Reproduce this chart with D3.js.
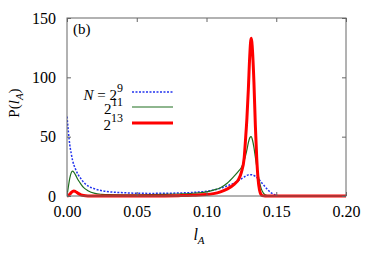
<!DOCTYPE html>
<html><head><meta charset="utf-8">
<script src="https://cdn.jsdelivr.net/npm/d3@7"></script>
<style>body{margin:0;background:#fff}svg{display:block}svg text{font-family:"Liberation Serif","Times New Roman","DejaVu Serif",serif !important}</style>
</head><body><svg id="c" width="374" height="262"></svg>
<script>
const xs = [0,0.001,0.002,0.003,0.004,0.005,0.006,0.008,0.010,0.012,0.015,0.02,0.025,0.03,0.04,0.05,0.06,0.07,0.08,0.09,0.10,0.105,0.11,0.115,0.12,0.123,0.125,0.127,0.128,0.129,0.130,0.131,0.132,0.133,0.134,0.135,0.136,0.137,0.138,0.139,0.140,0.142,0.144,0.146,0.148,0.150,0.152,0.155,0.16,0.18,0.20];
const n9  = [67,54,43,36,30,26,23,18,14.5,11.5,8.5,6,4.5,3.6,2.8,2.3,2.2,2.3,2.5,3,4,5,6.5,8.5,11,13,14.5,16,16.8,17.4,17.8,18,18,17.8,17.3,16.6,15.7,14.6,13.4,12,10.6,7.8,5.2,3,1.5,0.6,0.2,0,0,0,0];
const n11 = [0,8,15,19.5,21,20,18,13.5,10,7,4.5,2.2,1.4,1.1,1,1,1.1,1.3,1.7,2.3,3.5,5,7,11,17,21,24,30,34,39,45,49,50,47,41,33,25,18,12,7,4,1,0.2,0,0,0,0,0,0,0,0];
const n13 = [0,0.5,1.5,2.8,3.8,4.2,3.8,2.2,1.0,0.4,0.1,0,0,0,0,0,0,0.1,0.3,0.6,1.2,2,3.5,6,10,14,20,32,48,66,90,118,133,122,96,60,32,14,5,1.5,0.3,0,0,0,0,0,0,0,0,0,0];
const xTicks = [0,0.05,0.10,0.15,0.20];
const yTicks = [0,50,100,150];
const series = [
  {name:"9", vals:n9, color:"#2233ee", width:1.5, dash:"2,1.5"},
  {name:"11", vals:n11, color:"#1e6e1e", width:1.2, dash:null},
  {name:"13", vals:n13, color:"#ff0000", width:3, dash:null}
];

const svg = d3.select("#c");
const L=67, R=346, T=18, B=196;
const x = d3.scaleLinear().domain([0,0.2]).range([L,R]);
const y = d3.scaleLinear().domain([0,150]).range([B,T]);

svg.append("defs").append("clipPath").attr("id","clip")
  .append("rect").attr("x",L).attr("y",T-2).attr("width",R-L).attr("height",B-T+4);

const line = d3.line().x((d,i)=>x(xs[i])).y(d=>y(d)).curve(d3.curveMonotoneX);
const g = svg.append("g").attr("clip-path","url(#clip)");
series.forEach(s=>{
  g.append("path").datum(s.vals).attr("d",line).attr("fill","none")
    .attr("stroke",s.color).attr("stroke-width",s.width)
    .attr("stroke-dasharray",s.dash).attr("stroke-linejoin","round");
});

const frame = svg.append("g");
frame.append("rect").attr("x",L).attr("y",T).attr("width",R-L).attr("height",B-T)
  .attr("fill","none").attr("stroke","#666").attr("stroke-width",1);

const fmtX = d3.format(".2f");
const axB = d3.axisBottom(x).tickValues(xTicks).tickFormat(fmtX).tickSize(-4).tickPadding(10);
const axT = d3.axisTop(x).tickValues(xTicks).tickFormat("").tickSize(-4);
const axL = d3.axisLeft(y).tickValues(yTicks).tickSize(-4).tickPadding(11);
const axR = d3.axisRight(y).tickValues(yTicks).tickFormat("").tickSize(-4);
function style(sel){
  sel.attr("font-family",null);
  sel.select(".domain").remove();
  sel.selectAll(".tick line").attr("stroke","#666");
  sel.selectAll("text").attr("font-size",16).attr("fill","#000");
}
svg.append("g").attr("transform",`translate(0,${B})`).call(axB).call(style);
svg.append("g").attr("transform",`translate(0,${T})`).call(axT).call(style);
svg.append("g").attr("transform",`translate(${L},0)`).call(axL).call(style);
svg.append("g").attr("transform",`translate(${R},0)`).call(axR).call(style);

svg.append("text").attr("x",73).attr("y",34).attr("font-size",15).text("(b)");

const legY = [92,107,123];
const legBase = [100,114,130];
series.forEach((s,i)=>{
  svg.append("line").attr("x1",132).attr("x2",173).attr("y1",legY[i]).attr("y2",legY[i])
    .attr("stroke",s.color).attr("stroke-width",s.width).attr("stroke-dasharray",s.dash);
  const t = svg.append("text").attr("x",123).attr("y",legBase[i]).attr("text-anchor","end").attr("font-size",15);
  if(i===0){
    t.append("tspan").attr("font-style","italic").text("N");
    t.append("tspan").text(" = 2");
  } else {
    t.append("tspan").text("2");
  }
  t.append("tspan").attr("dy",-8).attr("font-size",12).text(s.name);
});

const xl = svg.append("text").attr("x",199).attr("y",240).attr("text-anchor","middle").attr("font-size",16);
xl.append("tspan").attr("font-style","italic").text("l");
xl.append("tspan").attr("font-style","italic").attr("font-size",11).attr("dy",4).text("A");

const yl = svg.append("text").attr("transform","translate(19,103) rotate(-90)").attr("text-anchor","middle").attr("font-size",15);
yl.append("tspan").text("P(");
yl.append("tspan").attr("font-style","italic").text("l");
yl.append("tspan").attr("font-style","italic").attr("font-size",11).attr("dy",4).text("A");
yl.append("tspan").attr("dy",-4).text(")");
</script></body></html>
